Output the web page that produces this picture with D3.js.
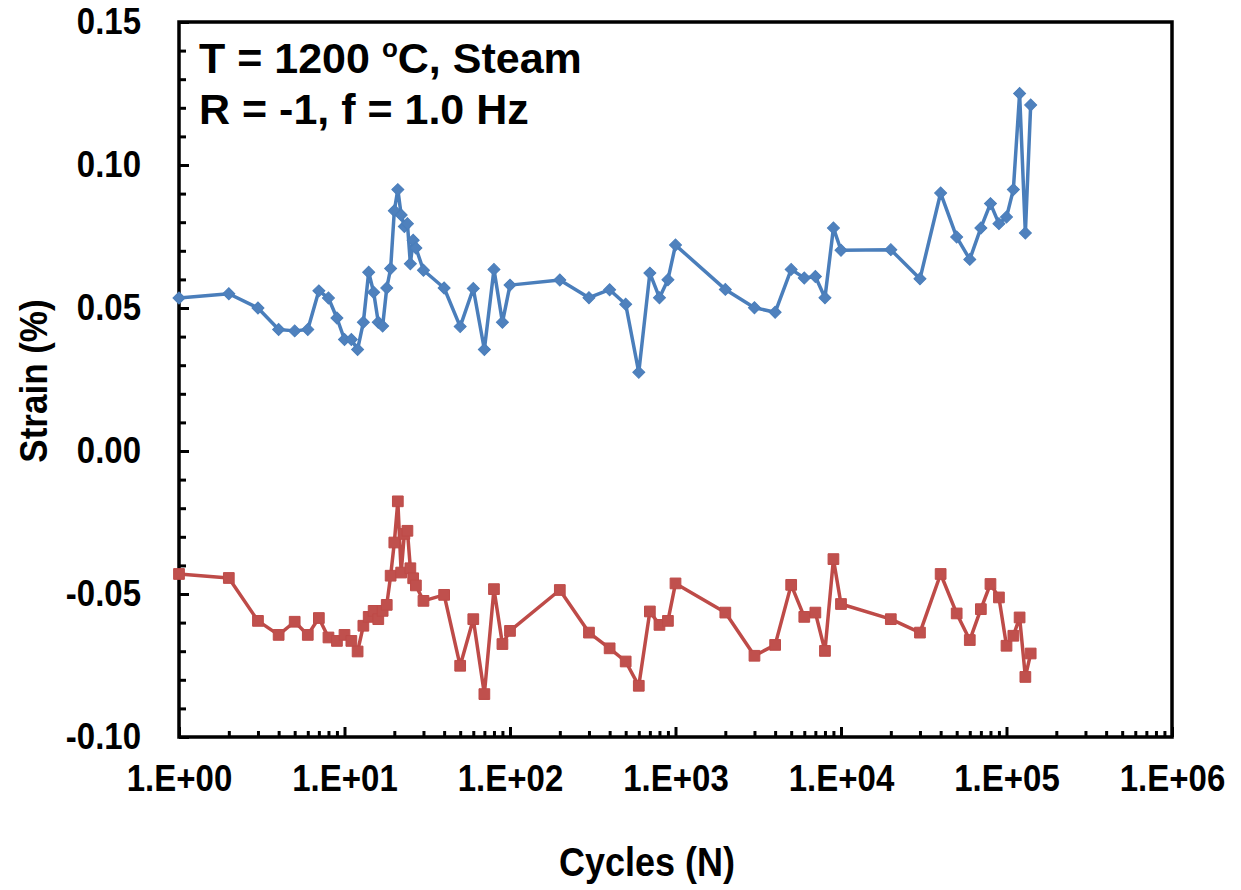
<!DOCTYPE html>
<html>
<head>
<meta charset="utf-8">
<script src="https://cdn.jsdelivr.net/npm/d3@7"></script>
<style>
  html, body { margin: 0; padding: 0; background: #fff; }
  text { font-family: "Liberation Sans", Arial, sans-serif; font-weight: bold; fill: #000; }
</style>
</head>
<body>
<svg id="chart" width="1241" height="890"></svg>
<script>
// ---- data ----
const cycles = [1,2,3,4,5,6,7,8,9,10,11,12,13,14,15,16,17,18,19,20,21,22,23,24,25,26,27,30,40,50,60,70,80,90,100,
  200,300,400,500,600,700,800,900,1000,2000,3000,4000,5000,6000,7000,8000,9000,10000,
  20000,30000,40000,50000,60000,70000,80000,90000,100000,110000,120000,130000,140000];

const maxStrain = [0.0535,0.055,0.050,0.0425,0.042,0.0425,0.056,0.0535,0.0465,0.039,0.039,0.0355,0.045,0.0625,0.0555,0.045,0.0437,0.057,0.0638,0.084,0.0914,0.0825,0.0785,0.0795,0.0655,0.0737,0.071,0.0632,0.057,0.0435,0.0568,0.0355,0.0635,0.045,0.058,
  0.0598,0.0536,0.0564,0.0513,0.0275,0.0622,0.0536,0.0599,0.072,0.0565,0.0501,0.0485,0.0635,0.0605,0.061,0.0536,0.078,0.0702,
  0.0704,0.0602,0.0902,0.0748,0.067,0.078,0.0865,0.0795,0.0818,0.0914,0.125,0.0762,0.121];

const minStrain = [-0.043,-0.0444,-0.0594,-0.0643,-0.0597,-0.0643,-0.0584,-0.0652,-0.0664,-0.0643,-0.0664,-0.0701,-0.0611,-0.058,-0.0559,-0.0588,-0.0559,-0.0538,-0.0436,-0.032,-0.0176,-0.0425,-0.029,-0.0279,-0.041,-0.0445,-0.047,-0.0524,-0.0503,-0.0751,-0.0588,-0.085,-0.0483,-0.0675,-0.0629,
  -0.0486,-0.0635,-0.069,-0.0736,-0.0821,-0.0561,-0.0608,-0.0594,-0.0463,-0.0565,-0.0716,-0.0678,-0.0468,-0.058,-0.0565,-0.0699,-0.0378,-0.0535,
  -0.0588,-0.0635,-0.043,-0.0568,-0.0661,-0.0553,-0.0465,-0.0512,-0.0681,-0.0646,-0.0582,-0.079,-0.0708];

const xTicks = [1,10,100,1000,10000,100000,1000000];
const xTickLabels = ["1.E+00","1.E+01","1.E+02","1.E+03","1.E+04","1.E+05","1.E+06"];
const yTicks = [-0.10,-0.05,0.00,0.05,0.10,0.15];
const yTickLabels = ["-0.10","-0.05","0.00","0.05","0.10","0.15"];
const annotationLine2 = "R = -1, f = 1.0 Hz";

// ---- layout ----
const svg = d3.select("#chart");
const L = 179, R = 1172, T = 22, B = 737;
const x = d3.scaleLog().domain([1, 1e6]).range([L, R]);
const y = d3.scaleLinear().domain([-0.10, 0.15]).range([B, T]);

// minor ticks
const xMinor = [];
for (let e = 0; e < 6; e++) for (let k = 2; k <= 9; k++) xMinor.push(k * Math.pow(10, e));
const yMinor = d3.range(-10, 16).map(v => v / 100).filter(v => Math.abs(Math.round(v*100) % 5) !== 0);

const gx = svg.append("g").attr("transform", `translate(0,${B})`);
gx.call(d3.axisBottom(x).tickValues(xMinor).tickSize(-6).tickFormat(""));
gx.select(".domain").remove();
const gx2 = svg.append("g").attr("class", "xmaj").attr("transform", `translate(0,${B})`);
gx2.call(d3.axisBottom(x).tickValues(xTicks).tickSize(-10).tickPadding(25)
  .tickFormat((d, i) => xTickLabels[i]));
gx2.select(".domain").remove();

const gy = svg.append("g").attr("transform", `translate(${L},0)`);
gy.call(d3.axisLeft(y).tickValues(yMinor).tickSize(-7).tickFormat(""));
gy.select(".domain").remove();
const gy2 = svg.append("g").attr("class", "ymaj").attr("transform", `translate(${L},0)`);
gy2.call(d3.axisLeft(y).tickValues(yTicks).tickSize(-10).tickPadding(38)
  .tickFormat((d, i) => yTickLabels[yTicks.indexOf(d)]));
gy2.select(".domain").remove();
svg.selectAll(".tick line").attr("stroke", "#000").attr("stroke-width", 3);

svg.selectAll(".tick text")
  .style("font-size", "33px")
  .style("font-family", "'Liberation Sans', Arial, sans-serif")
  .style("font-weight", "bold")
  .attr("fill", "#000")
  .attr("transform", "scale(1,1.12)");

// frame
svg.append("rect").attr("x", L).attr("y", T).attr("width", R - L).attr("height", B - T)
  .attr("fill", "none").attr("stroke", "#000").attr("stroke-width", 3.5);

// series
const line = d3.line().x(d => x(d[0])).y(d => y(d[1]));
const blueData = cycles.map((c, i) => [c, maxStrain[i]]);
const redData = cycles.map((c, i) => [c, minStrain[i]]);

svg.append("path").datum(blueData).attr("d", line)
  .attr("fill", "none").attr("stroke", "#4A7EBB").attr("stroke-width", 3.5).attr("stroke-linejoin", "round");
svg.append("path").datum(redData).attr("d", line)
  .attr("fill", "none").attr("stroke", "#BE4B48").attr("stroke-width", 3.5).attr("stroke-linejoin", "round");

svg.append("g").selectAll("path").data(blueData).join("path")
  .attr("d", d3.symbol().type(d3.symbolSquare).size(72))
  .attr("transform", d => `translate(${x(d[0])},${y(d[1])}) rotate(45)`)
  .attr("fill", "#4F81BD").attr("stroke", "#4A7EBB").attr("stroke-width", 1);
svg.append("g").selectAll("path").data(redData).join("path")
  .attr("d", d3.symbol().type(d3.symbolSquare).size(115))
  .attr("transform", d => `translate(${x(d[0])},${y(d[1])})`)
  .attr("fill", "#C0504D").attr("stroke", "#BE4B48").attr("stroke-width", 1);

// axis titles
svg.append("text").attr("transform", "translate(647,876) scale(1,1.12)").attr("text-anchor", "middle")
  .style("font-size", "36px").text("Cycles (N)");
svg.append("text").attr("transform", "translate(47,381) rotate(-90) scale(1,1.12)").attr("text-anchor", "middle")
  .style("font-size", "35px").text("Strain (%)");

// annotation
const a1 = svg.append("text").attr("x", 199).attr("y", 73).style("font-size", "43px");
a1.append("tspan").text("T = 1200 ");
a1.append("tspan").text("o").style("font-size", "26px").attr("dy", -16);
a1.append("tspan").text("C, Steam").attr("dy", 16);
svg.append("text").attr("x", 199).attr("y", 124).style("font-size", "43px").text(annotationLine2);
</script>
</body>
</html>
